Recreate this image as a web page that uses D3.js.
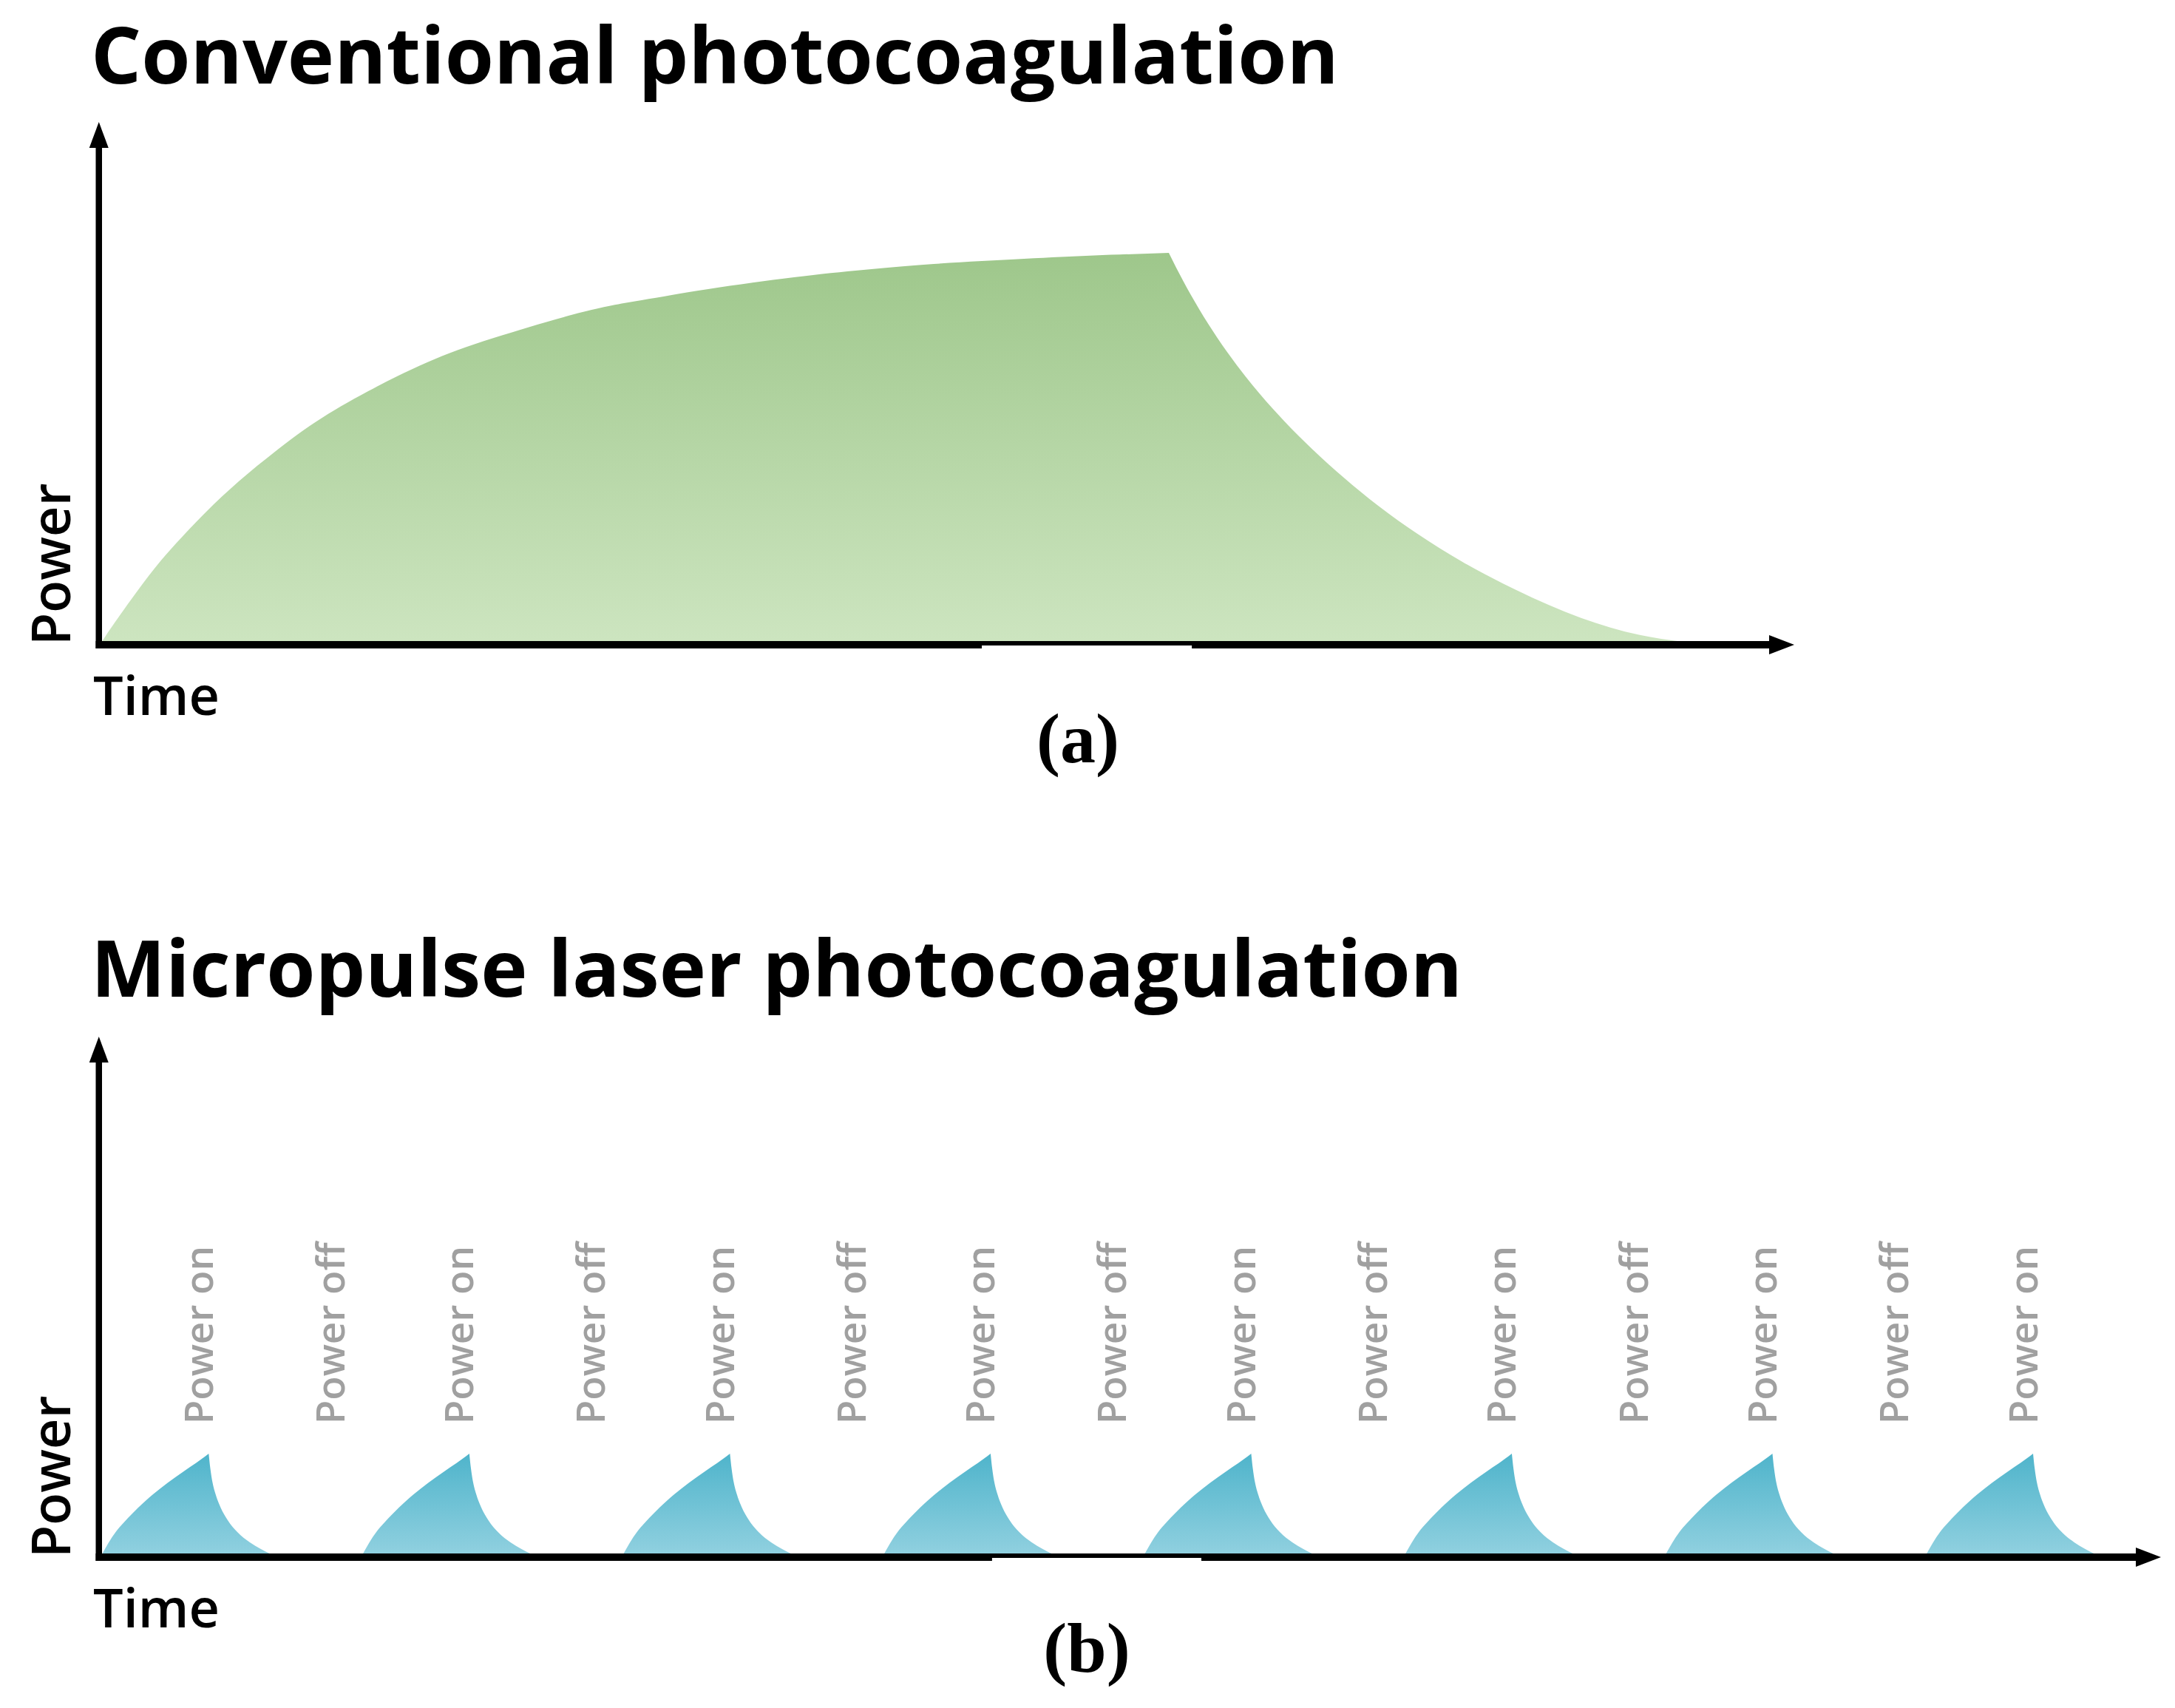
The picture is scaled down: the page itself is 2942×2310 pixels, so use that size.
<!DOCTYPE html>
<html><head><meta charset="utf-8">
<script src="https://cdn.jsdelivr.net/npm/d3@7"></script>
<style>html,body{margin:0;padding:0;background:#fff}svg{display:block}</style>
</head><body>
<svg id="chart" width="2942" height="2310"></svg>
<script>
// ---------------- data ----------------
const titles = ["Conventional photocoagulation", "Micropulse laser photocoagulation"];
const panelTags = ["(a)", "(b)"];
const axisLabelX = "Time";
const axisLabelY = "Power";
const onLabel = "Power on";
const offLabel = "Power off";

// (a) conventional exposure: time (0..1000 a.u.), power (0..100 a.u.)
const convRiseT  = [0, 2.6, 10.9, 19.7, 30.6, 43.7, 61.2, 80.8, 102.7, 126.7, 157.3, 192.2, 231.5, 284.0, 318.9, 358.2, 408.9, 450.0, 491.5, 544.8, 586.3, 630.4];
const convRiseP  = [0, 1.35, 5.26, 9.25, 13.94, 18.92, 24.89, 30.87, 36.70, 42.39, 48.22, 53.77, 58.46, 63.44, 65.72, 67.85, 70.13, 71.55, 72.69, 73.68, 74.32, 74.82];
const convDecayT = [630.4, 638.9, 648.3, 658.8, 670.6, 683.9, 698.8, 715.4, 733.7, 754.0, 777.2, 803.8, 835.5, 874.0, 908.7, 934.0];
const convDecayP = [74.82, 69.4, 64.0, 58.6, 53.2, 47.8, 42.4, 37.0, 31.6, 26.2, 20.8, 15.4, 10.0, 4.6, 1.3, 0];

// (b) micropulse: time (0..790 a.u., one duty cycle = 100), power (0..100 a.u.)
const pulseStartT = [0, 100, 200, 300, 400, 500, 600, 700];
const pulseRiseT  = [0, 2.47, 5.30, 8.14, 11.91, 16.65, 22.32, 28.00, 33.67, 38.38, 40.93];
const pulseRiseP  = [0, 2.19, 4.33, 6.00, 8.00, 10.29, 12.67, 14.81, 16.81, 18.47, 19.43];
const pulseDecayT = [40.93, 41.55, 42.40, 43.68, 45.52, 48.22, 52.05, 56.73, 60.70, 64.87];
const pulseDecayP = [19.43, 16.57, 13.86, 11.43, 9.00, 6.57, 4.21, 2.29, 1.07, 0];
const onLabelT  = [42.5, 142.5, 242.5, 342.5, 442.5, 542.5, 642.5, 742.5];
const offLabelT = [93, 193, 293, 393, 493, 593, 693];
const labelBaseP = 25.1;

// small white gaps in the original time axes
const gapA = [519.9, 644.0];
const gapB = [341.5, 421.8];

// ---------------- layout / style ----------------
const svg = d3.select("#chart");
const FONT = "'Open Sans', 'Noto Sans', sans-serif";
const AX_W = 10, AY_W = 8.5;

const defs = svg.append("defs");
function grad(id, top, bottom) {
  const g = defs.append("linearGradient").attr("id", id)
    .attr("x1", 0).attr("y1", 0).attr("x2", 0).attr("y2", 1);
  g.append("stop").attr("offset", "0%").attr("stop-color", top);
  g.append("stop").attr("offset", "100%").attr("stop-color", bottom);
}
grad("gGreen", "#9ec78b", "#cde5c0");
grad("gTeal", "#4fb4cb", "#92d1e0");

const panels = [
  { x: d3.scaleLinear([0, 1000], [138, 2427]), y: d3.scaleLinear([0, 100], [868, 165]), titleY: 113, titleW: 1684, gap: gapA, tagX: 1458, tagY: 1031 },
  { x: d3.scaleLinear([0, 790], [138, 2923]),  y: d3.scaleLinear([0, 100], [2102, 1402]), titleY: 1348, titleW: 1851, gap: gapB, tagX: 1470, tagY: 2261 }
];

function shapePath(xs, ys, riseT, riseP, decayT, decayP, off, riseCurve, decayCurve) {
  const mk = c => d3.line().x(d => xs(d[0] + off)).y(d => ys(d[1])).curve(c);
  const r = mk(riseCurve)(riseT.map((t, i) => [t, riseP[i]]));
  const dcy = mk(decayCurve)(decayT.map((t, i) => [t, decayP[i]])).replace(/^M/, "L");
  const base = ys(0) + 4;
  return r + dcy + `L${xs(decayT[decayT.length - 1] + off)},${base}L${xs(riseT[0] + off)},${base}Z`;
}

function drawAxes(p) {
  const g = svg.append("g");
  const y0 = p.y(0) + AX_W / 2 - 1;           // x-axis centre
  const xAxisX = p.x(0) - AY_W / 2;           // y-axis centre
  const xEnd = p.x.range()[1], yEnd = p.y.range()[1];
  const headL = 34, headH = 13, headLy = 35;
  g.append("line").attr("x1", xAxisX - AY_W / 2).attr("x2", xEnd - headL + 1)
    .attr("y1", y0).attr("y2", y0).attr("stroke", "#000").attr("stroke-width", AX_W);
  g.append("path").attr("d", `M${xEnd - headL},${y0 - headH}L${xEnd},${y0}L${xEnd - headL},${y0 + headH}Z`).attr("fill", "#000");
  g.append("line").attr("x1", xAxisX).attr("x2", xAxisX)
    .attr("y1", y0 + AX_W / 2).attr("y2", yEnd + headLy - 1)
    .attr("stroke", "#000").attr("stroke-width", AY_W);
  g.append("path").attr("d", `M${xAxisX - headH},${yEnd + headLy}L${xAxisX},${yEnd}L${xAxisX + headH},${yEnd + headLy}Z`).attr("fill", "#000");
  g.append("rect").attr("x", p.x(p.gap[0])).attr("width", p.x(p.gap[1]) - p.x(p.gap[0]))
    .attr("y", y0 + 1).attr("height", AX_W / 2 + 1).attr("fill", "#fff");
  svg.append("text").attr("x", 126).attr("y", y0 + 95)
    .attr("font-family", FONT).attr("font-weight", 600).attr("font-size", 72).attr("fill", "#000")
    .text(axisLabelX);
  svg.append("text").attr("transform", `translate(95,${y0 + 1}) rotate(-90)`)
    .attr("font-family", FONT).attr("font-weight", 600).attr("font-size", 72).attr("fill", "#000")
    .text(axisLabelY);
}

// ----- panel (a)
{
  const p = panels[0];
  svg.append("path")
    .attr("d", shapePath(p.x, p.y, convRiseT, convRiseP, convDecayT, convDecayP, 0, d3.curveNatural, d3.curveMonotoneX))
    .attr("fill", "url(#gGreen)");
}
// ----- panel (b)
{
  const p = panels[1];
  svg.append("g").selectAll("path").data(pulseStartT).join("path")
    .attr("d", s => shapePath(p.x, p.y, pulseRiseT, pulseRiseP, pulseDecayT, pulseDecayP, s, d3.curveMonotoneX, d3.curveMonotoneX))
    .attr("fill", "url(#gTeal)");
  const lab = svg.append("g").attr("font-family", FONT).attr("font-weight", 600)
    .attr("font-size", 53).attr("fill", "#a0a0a0");
  lab.selectAll("text.on").data(onLabelT).join("text").attr("class", "on")
    .attr("transform", t => `translate(${p.x(t)},${p.y(labelBaseP)}) rotate(-90)`).text(onLabel);
  lab.selectAll("text.off").data(offLabelT).join("text").attr("class", "off")
    .attr("transform", t => `translate(${p.x(t)},${p.y(labelBaseP)}) rotate(-90)`).text(offLabel);
}

panels.forEach((p, i) => {
  drawAxes(p);
  svg.append("text").attr("x", 123).attr("y", p.titleY)
    .attr("font-family", FONT).attr("font-weight", 700).attr("font-size", 105).attr("fill", "#000")
    .attr("textLength", p.titleW + 4).attr("lengthAdjust", "spacingAndGlyphs")
    .text(titles[i]);
  svg.append("text").attr("x", p.tagX).attr("y", p.tagY).attr("text-anchor", "middle")
    .attr("font-family", "'Liberation Serif', 'Times New Roman', serif").attr("font-weight", 700)
    .attr("font-size", 96).attr("fill", "#000").text(panelTags[i]);
});
</script>
</body></html>
